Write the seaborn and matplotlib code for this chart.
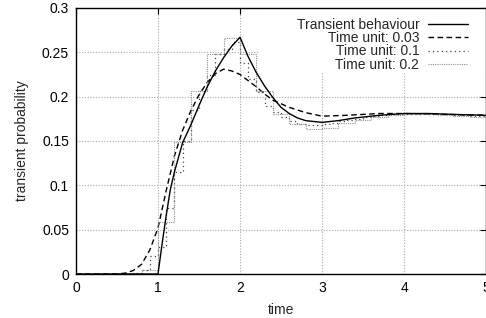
import matplotlib
matplotlib.use("Agg")
import matplotlib.pyplot as plt
from matplotlib.patches import Rectangle
from matplotlib.ticker import FuncFormatter, MultipleLocator
import numpy as np
import pandas as pd
import seaborn as sns

# exact transient behaviour
exact_t = [0.0, 1.0, 1.05, 1.1, 1.15, 1.2, 1.3, 1.4, 1.5, 1.6, 1.7, 1.8, 1.9, 2.0,
           2.1, 2.2, 2.3, 2.4, 2.5, 2.6, 2.7, 2.8, 3.0, 3.2, 3.4, 3.7, 4.0, 4.3, 4.6, 5.0]
exact_p = [0.0, 0.0, 0.034, 0.066, 0.095, 0.115, 0.148, 0.168, 0.19, 0.211, 0.229, 0.244, 0.257, 0.267,
           0.245, 0.227, 0.212, 0.199, 0.188, 0.181, 0.176, 0.173, 0.171, 0.173, 0.176, 0.179, 0.181, 0.181, 0.180, 0.179]

# time unit 0.03 (smooth)
tu003_t = [0.0, 0.5, 0.6, 0.7, 0.8, 0.9, 1.0, 1.1, 1.2, 1.3, 1.4, 1.5, 1.6, 1.7, 1.8, 1.9, 2.0,
           2.1, 2.2, 2.3, 2.4, 2.6, 2.8, 3.0, 3.3, 3.7, 4.0, 4.5, 5.0]
tu003_p = [0.0, 0.0, 0.001, 0.004, 0.011, 0.027, 0.052, 0.094, 0.133, 0.162, 0.184, 0.202, 0.216, 0.226,
           0.231, 0.229, 0.225, 0.218, 0.211, 0.203, 0.196, 0.188, 0.182, 0.178, 0.179, 0.181, 0.181, 0.180, 0.179]

# time unit 0.1 (steps)
tu01_t = [round(0.1 * i, 1) for i in range(51)]
tu01_p = [0.0, 0.0, 0.0, 0.0, 0.0, 0.0, 0.0, 0.001, 0.004, 0.02,
          0.03, 0.075, 0.115, 0.15, 0.185, 0.206, 0.224, 0.248, 0.254, 0.262,
          0.238, 0.22, 0.205, 0.19, 0.183, 0.177, 0.172, 0.169, 0.168, 0.168,
          0.169, 0.17, 0.172, 0.174, 0.175, 0.177, 0.178, 0.179, 0.18, 0.18,
          0.181, 0.181, 0.181, 0.18, 0.18, 0.18, 0.179, 0.179, 0.178, 0.178, 0.178]

# time unit 0.2 (steps)
tu02_t = [round(0.2 * i, 1) for i in range(26)]
tu02_p = [0.0, 0.0, 0.0, 0.0, 0.005, 0.059, 0.149, 0.206, 0.248, 0.2665,
          0.248, 0.206, 0.18, 0.169, 0.163, 0.165, 0.17, 0.174, 0.177, 0.179,
          0.18, 0.18, 0.179, 0.178, 0.177, 0.177]

sns.set_theme(style="white")
plt.rcParams["font.family"] = ["Liberation Sans", "DejaVu Sans"]
plt.rcParams["font.size"] = 10

fig = plt.figure(figsize=(4.86, 3.18), dpi=100)
ax = fig.add_axes([76 / 486, 1 - 274 / 318, 410 / 486, 266 / 318])

sns.lineplot(x=exact_t, y=exact_p, ax=ax, color="black", lw=1.0,
             label="Transient behaviour", zorder=4)
sns.lineplot(x=tu003_t, y=tu003_p, ax=ax, color="black", lw=1.0,
             linestyle=(0, (4, 2.5)), label="Time unit: 0.03", zorder=3)
sns.lineplot(x=tu01_t, y=tu01_p, ax=ax, color="#444444", lw=0.9, drawstyle="steps-post",
             linestyle=(0, (1, 2.5)), label="Time unit: 0.1", zorder=3)
sns.lineplot(x=tu02_t, y=tu02_p, ax=ax, color="#909090", lw=0.8, drawstyle="steps-post",
             linestyle=(0, (1, 1)), label="Time unit: 0.2", zorder=3)

ax.set_xlim(0, 5)
ax.set_ylim(0, 0.3)
ax.xaxis.set_major_locator(MultipleLocator(1))
ax.yaxis.set_major_locator(MultipleLocator(0.05))
ax.yaxis.set_major_formatter(FuncFormatter(lambda v, p: f"{v:g}"))
ax.tick_params(direction="in", length=4, width=0.8, top=True, right=True,
               colors="black", labelsize=10, pad=5)
for s in ax.spines.values():
    s.set_color("black")
    s.set_linewidth(1.0)

ax.set_axisbelow(True)
ax.grid(True, color="#a8a8a8", linestyle=(0, (1, 1.5)), linewidth=0.8)

# opaque key area
ax.add_patch(Rectangle((0.449, 0.759), 0.551, 0.241, transform=ax.transAxes,
                       facecolor="white", edgecolor="none", zorder=1))

ax.set_xlabel("time", fontsize=10, labelpad=6)
ax.set_ylabel("transient probability", fontsize=10, labelpad=9)

ax.legend(loc="upper right", bbox_to_anchor=(0.956, 0.963), frameon=False,
          markerfirst=False, handlelength=2.9, handletextpad=0.6,
          labelspacing=-0.05, borderaxespad=0, borderpad=0, fontsize=10)

fig.savefig("out.png", dpi=100)
